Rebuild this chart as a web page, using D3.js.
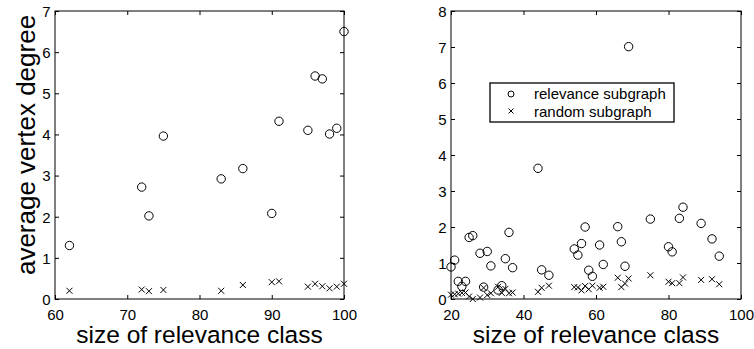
<!DOCTYPE html>
<html>
<head>
<meta charset="utf-8">
<script src="https://cdn.jsdelivr.net/npm/d3@7"></script>
<style>
html,body{margin:0;padding:0;background:#fff;}
svg{display:block;}
text{font-family:"Liberation Sans",Arial,Helvetica,sans-serif;fill:#000;}
</style>
</head>
<body>
<svg id="chart" width="754" height="349"></svg>
<script>
// Left panel data
const leftSizes = [62,72,73,75,83,86,90,91,95,96,97,98,99,100];
const leftRelevance = [1.30,2.72,2.02,3.96,2.92,3.17,2.08,4.32,4.10,5.42,5.35,4.01,4.15,6.50];
const leftRandom = [0.20,0.23,0.19,0.22,0.20,0.34,0.41,0.43,0.30,0.37,0.31,0.26,0.30,0.37];

// Right panel data
const rightSizes = [20,21,22,23,24,25,26,28,29,30,31,33,34,35,36,37,44,45,47,54,55,56,57,58,59,61,62,66,67,68,69,75,80,81,83,84,89,92,94];
const rightRelevance = [0.89,1.08,0.49,0.35,0.49,1.71,1.76,1.27,0.33,1.32,0.92,0.25,0.37,1.12,1.85,0.87,3.63,0.81,0.66,1.39,1.22,1.54,2.00,0.80,0.63,1.50,0.96,2.01,1.59,0.91,7.01,2.22,1.45,1.31,2.24,2.55,2.10,1.67,1.19];
const rightRandom = [0.12,0.13,0.15,0.17,0.18,0.07,0.00,0.04,0.31,0.11,0.16,0.34,0.17,0.28,0.16,0.18,0.20,0.31,0.37,0.33,0.32,0.24,0.36,0.27,0.37,0.31,0.34,0.59,0.33,0.43,0.57,0.66,0.48,0.44,0.44,0.60,0.53,0.55,0.41];

const leftXTicks = [60,70,80,90,100];
const leftYTicks = [0,1,2,3,4,5,6,7];
const rightXTicks = [20,40,60,80,100];
const rightYTicks = [0,1,2,3,4,5,6,7,8];

const xLabel = "size of relevance class";
const yLabel = "average vertex degree";
const legendLabels = ["relevance subgraph", "random subgraph"];

const svg = d3.select("#chart");
const fmt = d3.format("d");

function panel(opts) {
  const {x0, x1, y0, y1, xDomain, yDomain, xTicks, yTicks, sizes, rel, rnd} = opts;
  const x = d3.scaleLinear().domain(xDomain).range([x0, x1]);
  const y = d3.scaleLinear().domain(yDomain).range([y1, y0]);
  const g = svg.append("g");
  const tl = 4;

  // frame
  g.append("rect").attr("x", x0).attr("y", y0).attr("width", x1 - x0).attr("height", y1 - y0)
    .attr("fill", "none").attr("stroke", "#000").attr("stroke-width", 1);

  // axes with inward ticks
  const bottom = g.append("g").attr("transform", `translate(0,${y1})`)
    .call(d3.axisBottom(x).tickValues(xTicks).tickFormat(fmt).tickSizeInner(-tl).tickSizeOuter(0).tickPadding(10));
  const top = g.append("g").attr("transform", `translate(0,${y0})`)
    .call(d3.axisTop(x).tickValues(xTicks).tickSizeInner(-tl).tickSizeOuter(0).tickFormat(""));
  const left = g.append("g").attr("transform", `translate(${x0},0)`)
    .call(d3.axisLeft(y).tickValues(yTicks).tickFormat(fmt).tickSizeInner(-tl).tickSizeOuter(0).tickPadding(4.5));
  const right = g.append("g").attr("transform", `translate(${x1},0)`)
    .call(d3.axisRight(y).tickValues(yTicks).tickSizeInner(-tl).tickSizeOuter(0).tickFormat(""));
  [bottom, top, left, right].forEach(a => {
    a.select(".domain").remove();
    a.selectAll("line").attr("stroke", "#000");
    a.selectAll("text").attr("font-size", 15).attr("font-family", "Liberation Sans, Arial, sans-serif").attr("fill", "#000");
  });
  left.selectAll("text").attr("dy", "0.36em");

  // circles
  g.selectAll("circle.rel").data(sizes.map((s, i) => [s, rel[i]])).join("circle")
    .attr("class", "rel")
    .attr("cx", d => x(d[0])).attr("cy", d => y(d[1])).attr("r", 4.2)
    .attr("fill", "none").attr("stroke", "#000").attr("stroke-width", 1);

  // crosses
  const cs = 3;
  g.selectAll("path.rnd").data(sizes.map((s, i) => [s, rnd[i]])).join("path")
    .attr("class", "rnd")
    .attr("d", d => {
      const cx = x(d[0]), cy = y(d[1]);
      return `M${cx - cs},${cy - cs}L${cx + cs},${cy + cs}M${cx - cs},${cy + cs}L${cx + cs},${cy - cs}`;
    })
    .attr("fill", "none").attr("stroke", "#000").attr("stroke-width", 1);

  // x label
  g.append("text").attr("x", (x0 + x1) / 2).attr("y", 343).attr("text-anchor", "middle")
    .attr("font-size", 24.5).text(xLabel);
  return {x, y, g};
}

const L = panel({x0: 55, x1: 344, y0: 11, y1: 299, xDomain: [60, 100], yDomain: [0, 7],
  xTicks: leftXTicks, yTicks: leftYTicks, sizes: leftSizes, rel: leftRelevance, rnd: leftRandom});
const R = panel({x0: 451, x1: 741, y0: 11, y1: 299, xDomain: [20, 100], yDomain: [0, 8],
  xTicks: rightXTicks, yTicks: rightYTicks, sizes: rightSizes, rel: rightRelevance, rnd: rightRandom});

// y label on left panel
svg.append("text").attr("transform", "translate(35,145) rotate(-90)")
  .attr("text-anchor", "middle").attr("font-size", 26).text(yLabel);

// legend
const lg = svg.append("g");
lg.append("rect").attr("x", 490).attr("y", 83).attr("width", 184).attr("height", 39)
  .attr("fill", "#fff").attr("stroke", "#000").attr("stroke-width", 1.3);
lg.append("circle").attr("cx", 511).attr("cy", 94).attr("r", 3)
  .attr("fill", "none").attr("stroke", "#000").attr("stroke-width", 1);
const lc = 2.5;
lg.append("path").attr("d", `M${511 - lc},${111 - lc}L${511 + lc},${111 + lc}M${511 - lc},${111 + lc}L${511 + lc},${111 - lc}`)
  .attr("stroke", "#000").attr("stroke-width", 1);
lg.append("text").attr("x", 534).attr("y", 99).attr("font-size", 15).text(legendLabels[0]);
lg.append("text").attr("x", 534).attr("y", 116.5).attr("font-size", 15).text(legendLabels[1]);
</script>
</body>
</html>
